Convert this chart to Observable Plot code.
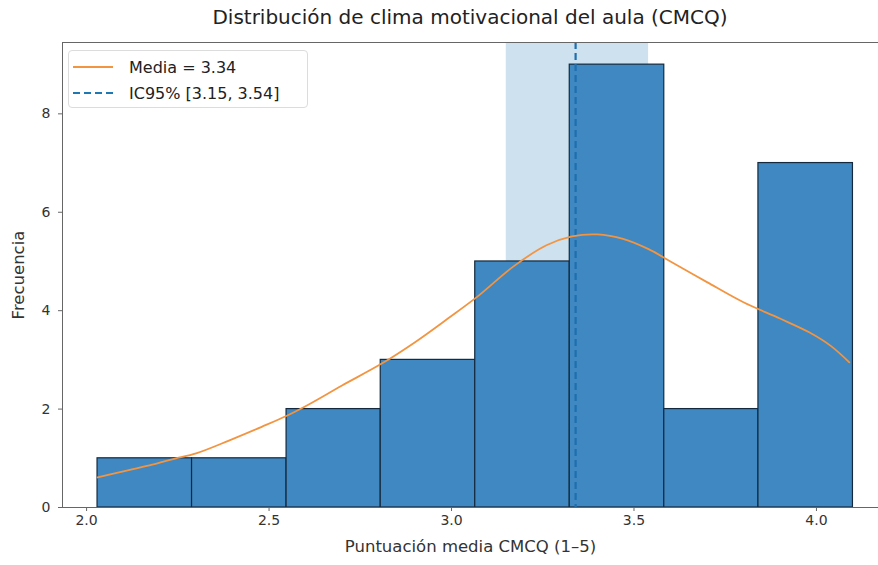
<!DOCTYPE html>
<html>
<head>
<meta charset="utf-8">
<script src="https://cdn.jsdelivr.net/npm/d3@7"></script>
<script src="https://cdn.jsdelivr.net/npm/@observablehq/plot@0.6"></script>
<style>
  body { margin: 0; background: #fff; font-family: "DejaVu Sans", sans-serif; }
  #wrap { position: relative; width: 878px; height: 565px; overflow: hidden; }
  #title { height: 34px; line-height: 34px; font-size: 20px; color: #222; text-align: center; padding-left: 62px; box-sizing: border-box; width: 878px; }
  #legend { position: absolute; left: 68px; top: 50px; width: 240px; height: 58px; border: 1px solid #dcdcdc; border-radius: 4px; background: rgba(255,255,255,0.85); box-sizing: border-box; font-size: 16px; color: #222; }
  .row { position: absolute; left: 0; height: 20px; display: flex; align-items: center; }
  .row svg { margin-left: 4px; margin-right: 14px; }
</style>
</head>
<body>
<div id="wrap">
  <div id="title">Distribución de clima motivacional del aula (CMCQ)</div>
  <div id="chart"></div>
  <div id="legend">
    <div class="row" style="top:6px"><svg width="42" height="6"><line x1="0" y1="3" x2="40" y2="3" stroke="#f39440" stroke-width="2"/></svg><span>Media = 3.34</span></div>
    <div class="row" style="top:32px"><svg width="42" height="6"><line x1="0" y1="3" x2="40" y2="3" stroke="#1f77b4" stroke-width="2.2" stroke-dasharray="7,4"/></svg><span>IC95% [3.15, 3.54]</span></div>
  </div>
</div>
<script>
// Histogram bins (edges) and counts
const binEdges = [2.03, 2.289, 2.548, 2.806, 3.065, 3.324, 3.583, 3.841, 4.10];
const counts = [1, 1, 2, 3, 5, 9, 2, 7];

// Mean and 95% CI
const meanValue = 3.34;
const ciLow = 3.15;
const ciHigh = 3.54;

// KDE curve (scaled to counts)
const kdeX = [2.03, 2.11, 2.18, 2.24, 2.30, 2.39, 2.48, 2.55, 2.61, 2.70, 2.81, 2.90, 2.99, 3.07, 3.17, 3.26, 3.33, 3.40, 3.47, 3.54, 3.60, 3.70, 3.80, 3.90, 3.98, 4.04, 4.09];
const kdeY = [0.61, 0.75, 0.87, 0.99, 1.10, 1.36, 1.64, 1.87, 2.10, 2.48, 2.93, 3.36, 3.84, 4.28, 4.90, 5.33, 5.51, 5.55, 5.46, 5.25, 5.00, 4.58, 4.17, 3.84, 3.56, 3.28, 2.95];

// Tick labels
const xTicks = [2.0, 2.5, 3.0, 3.5, 4.0];
const yTicks = [0, 2, 4, 6, 8];

const xDomain = [1.934, 4.170];
const yDomain = [0, 9.45];

const bins = counts.map((c, i) => ({x0: binEdges[i], x1: binEdges[i + 1], count: c}));
const kde = kdeX.map((x, i) => ({x, y: kdeY[i]}));

const spine = "#666";

const chart = Plot.plot({
  width: 878,
  height: 531,
  marginTop: 8,
  marginBottom: 58,
  marginLeft: 62,
  marginRight: 0,
  style: {fontFamily: "DejaVu Sans", fontSize: "14px", color: "#333", background: "#fff"},
  x: {domain: xDomain},
  y: {domain: yDomain},
  marks: [
    Plot.rect([{a: ciLow, b: ciHigh}], {x1: "a", x2: "b", fill: "#1f77b4", fillOpacity: 0.22}),
    Plot.rectY(bins, {x1: "x0", x2: "x1", y: "count", fill: "#3f88c2", stroke: "#14293d", strokeWidth: 1.2}),
    Plot.ruleX([meanValue], {stroke: "#1f6fae", strokeWidth: 2.2, strokeDasharray: "7,4"}),
    Plot.line(kde, {x: "x", y: "y", stroke: "#f39440", strokeWidth: 1.8, curve: "catmull-rom"}),
    Plot.ruleY([yDomain[1]], {stroke: spine, strokeWidth: 1}),
    Plot.ruleY([yDomain[0]], {stroke: spine, strokeWidth: 1}),
    Plot.ruleX([xDomain[0]], {stroke: spine, strokeWidth: 1}),
    Plot.axisX({ticks: xTicks, tickFormat: d3.format(".1f"), tickSize: 4, tickPadding: 4, stroke: spine,
      label: "Puntuación media CMCQ (1–5)", labelAnchor: "center", labelArrow: "none", labelOffset: 44, fontSize: 14}),
    Plot.axisY({ticks: yTicks, tickSize: 4, tickPadding: 8, stroke: spine,
      label: "Frecuencia", labelAnchor: "center", labelArrow: "none", labelOffset: 50, fontSize: 14})
  ]
});
document.getElementById("chart").appendChild(chart);
// enlarge axis label text
chart.querySelectorAll("g[aria-label='x-axis label'] text, g[aria-label='y-axis label'] text").forEach(t => t.style.fontSize = "16.5px");
</script>
</body>
</html>
